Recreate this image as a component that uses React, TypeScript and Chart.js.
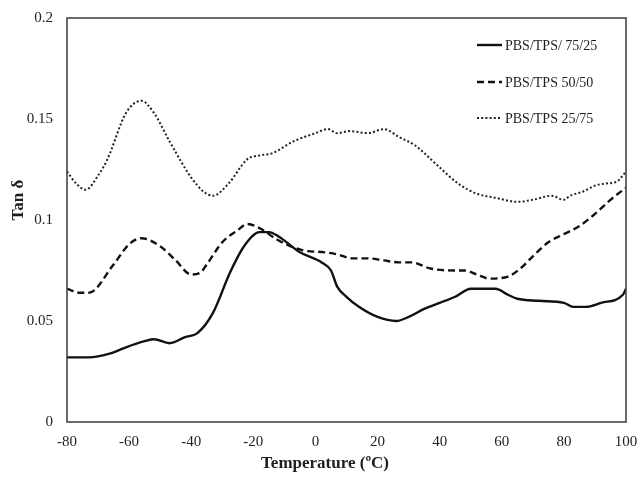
import React, { useEffect, useRef } from "react";
import { Chart, registerables } from "chart.js";

Chart.register(...registerables);

const seriesNames = ["PBS/TPS/ 75/25", "PBS/TPS 50/50", "PBS/TPS 25/75"];

const xTickValues = [-80, -60, -40, -20, 0, 20, 40, 60, 80, 100];
const yTickValues = [0, 0.05, 0.1, 0.15, 0.2];

const temps7525 = [-80, -73, -66, -61, -55, -52, -47, -42, -38, -33, -27.5, -23, -18, -15, -12, -5, 2, 5, 7, 10, 14, 20, 26, 30, 35, 40, 45, 50, 58, 62, 65, 72, 80, 83, 87, 92, 99, 100];
const vals7525 = [0.032, 0.032, 0.034, 0.037, 0.040, 0.041, 0.039, 0.042, 0.044, 0.054, 0.074, 0.087, 0.094, 0.094, 0.092, 0.084, 0.079, 0.075, 0.067, 0.062, 0.057, 0.052, 0.050, 0.052, 0.056, 0.059, 0.062, 0.066, 0.066, 0.063, 0.061, 0.060, 0.059, 0.057, 0.057, 0.059, 0.063, 0.066];

const temps5050 = [-80, -76, -73, -65, -60, -56, -50, -45, -40, -37, -35, -30, -25, -22, -18, -12, -4, 3, 7, 12, 17, 22, 27, 31, 37, 45, 48, 52, 56, 62, 66, 70, 75, 80, 85, 90, 95, 100];
const vals5050 = [0.066, 0.064, 0.064, 0.078, 0.088, 0.091, 0.087, 0.080, 0.073, 0.074, 0.078, 0.089, 0.095, 0.098, 0.096, 0.090, 0.085, 0.084, 0.083, 0.081, 0.081, 0.080, 0.079, 0.079, 0.076, 0.075, 0.075, 0.073, 0.071, 0.072, 0.076, 0.082, 0.089, 0.093, 0.097, 0.103, 0.110, 0.116];

const temps2575 = [-80, -77, -74, -70, -67, -61, -56, -52, -47, -40, -36, -33, -28, -22, -18, -14, -7, 0, 4, 7, 11, 17, 22, 27, 32, 40, 46, 52, 58, 65, 70, 76, 80, 82, 86, 90, 93, 97, 100];
const vals2575 = [0.124, 0.118, 0.115, 0.122, 0.130, 0.153, 0.159, 0.153, 0.139, 0.121, 0.114, 0.112, 0.118, 0.130, 0.132, 0.133, 0.139, 0.143, 0.145, 0.143, 0.144, 0.143, 0.145, 0.141, 0.137, 0.126, 0.118, 0.113, 0.111, 0.109, 0.110, 0.112, 0.110, 0.112, 0.114, 0.117, 0.118, 0.119, 0.124];

const xTitle = "Temperature (ºC)";
const yTitle = "Tan δ";

const toPoints = (xs: number[], ys: number[]) => xs.map((x, i) => ({ x, y: ys[i] }));

const INK = "#1e1e1e";
const SERIF = "'Liberation Serif', 'Times New Roman', serif";

const borderPlugin = {
  id: "boxBorder",
  afterDraw(chart: any) {
    const { ctx, chartArea } = chart;
    ctx.save();
    ctx.strokeStyle = "#3a3a3a";
    ctx.lineWidth = 1.5;
    ctx.strokeRect(chartArea.left, chartArea.top, chartArea.right - chartArea.left, chartArea.bottom - chartArea.top);
    ctx.restore();
  },
};

const titlesPlugin = {
  id: "axisTitlesCustom",
  afterDraw(chart: any) {
    const { ctx } = chart;
    ctx.save();
    ctx.font = `bold 17px ${SERIF}`;
    ctx.fillStyle = INK;
    ctx.textAlign = "center";
    ctx.textBaseline = "middle";
    ctx.fillText(xTitle, 325, 464);
    ctx.translate(19, 200);
    ctx.rotate(-Math.PI / 2);
    ctx.fillText(yTitle, 0, 0);
    ctx.restore();
  },
};

const legendPlugin = {
  id: "insideLegend",
  afterDraw(chart: any) {
    const { ctx } = chart;
    const rows = [45, 82, 118];
    ctx.save();
    chart.data.datasets.forEach((ds: any, i: number) => {
      const y = rows[i];
      ctx.beginPath();
      ctx.strokeStyle = ds.borderColor;
      ctx.lineWidth = ds.borderWidth;
      ctx.setLineDash(ds.borderDash || []);
      ctx.moveTo(477, y);
      ctx.lineTo(502, y);
      ctx.stroke();
      ctx.setLineDash([]);
      ctx.font = `14px ${SERIF}`;
      ctx.fillStyle = INK;
      ctx.textAlign = "left";
      ctx.textBaseline = "middle";
      ctx.fillText(ds.label, 505, y + 1);
    });
    ctx.restore();
  },
};

export default function App() {
  const ref = useRef<HTMLCanvasElement | null>(null);

  useEffect(() => {
    if (!ref.current) return;
    const chart = new Chart(ref.current, {
      type: "line",
      data: {
        datasets: [
          {
            label: seriesNames[0],
            data: toPoints(temps7525, vals7525),
            borderColor: "#111",
            borderWidth: 2.4,
            pointRadius: 0,
            cubicInterpolationMode: "monotone",
          },
          {
            label: seriesNames[1],
            data: toPoints(temps5050, vals5050),
            borderColor: "#111",
            borderWidth: 2.4,
            borderDash: [7, 4],
            pointRadius: 0,
            cubicInterpolationMode: "monotone",
          },
          {
            label: seriesNames[2],
            data: toPoints(temps2575, vals2575),
            borderColor: "#222",
            borderWidth: 2,
            borderDash: [2, 2.2],
            pointRadius: 0,
            cubicInterpolationMode: "monotone",
          },
        ],
      },
      options: {
        responsive: false,
        animation: false,
        devicePixelRatio: 1,
        layout: { padding: { top: 18, right: 13, left: 0, bottom: 0 } },
        plugins: {
          legend: { display: false },
          tooltip: { enabled: false },
        },
        scales: {
          x: {
            type: "linear",
            min: -80,
            max: 100,
            afterBuildTicks: (axis: any) => {
              axis.ticks = xTickValues.map((v) => ({ value: v }));
            },
            afterFit: (axis: any) => {
              axis.height = 61;
              axis.paddingLeft = 0;
              axis.paddingRight = 0;
            },
            grid: { display: false, drawTicks: false },
            border: { display: false },
            ticks: {
              padding: 11,
              maxRotation: 0,
              autoSkip: false,
              color: INK,
              font: { family: SERIF, size: 15 },
            },
          },
          y: {
            type: "linear",
            min: 0,
            max: 0.2,
            afterBuildTicks: (axis: any) => {
              axis.ticks = yTickValues.map((v) => ({ value: v }));
            },
            afterFit: (axis: any) => {
              axis.width = 67;
              axis.paddingTop = 0;
              axis.paddingBottom = 0;
            },
            grid: { display: false, drawTicks: false },
            border: { display: false },
            ticks: {
              padding: 14,
              color: INK,
              font: { family: SERIF, size: 15 },
              callback: (v: any) => String(Math.round(Number(v) * 100) / 100),
            },
          },
        },
      },
      plugins: [borderPlugin, titlesPlugin, legendPlugin],
    } as any);
    return () => chart.destroy();
  }, []);

  return (
    <div style={{ position: "absolute", left: 0, top: 0, width: 639, height: 483, background: "#fff" }}>
      <canvas ref={ref} width={639} height={483} />
    </div>
  );
}
